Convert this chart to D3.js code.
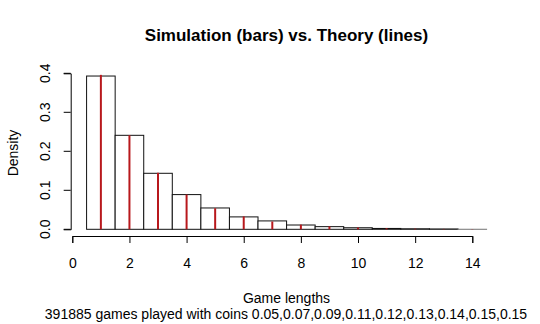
<!DOCTYPE html>
<html><head><meta charset="utf-8">
<script src="https://cdn.jsdelivr.net/npm/d3@7"></script>
<style>body{margin:0;background:#fff}svg{display:block}text{font-family:"Liberation Sans",Arial,sans-serif;fill:#000}</style>
</head><body>
<svg id="c" width="540" height="324"></svg>
<script>
const lengths = [1,2,3,4,5,6,7,8,9,10,11,12,13,14];
const simulated = [0.393,0.241,0.1436,0.089,0.0547,0.0318,0.0215,0.011,0.0068,0.004,0.0022,0.0014,0.0009,0.0001];
const theory = [0.396,0.241,0.145,0.089,0.054,0.033,0.020,0.012,0.0072,0.0044,0.0027,0.0016,0.0010,0.0006];
const xTicks = [0,2,4,6,8,10,12,14];
const yTicks = [0.0,0.1,0.2,0.3,0.4];
const title = "Simulation (bars) vs. Theory (lines)";
const xLabel = "Game lengths";
const yLabel = "Density";
const subtitle = "391885 games played with coins 0.05,0.07,0.09,0.11,0.12,0.13,0.14,0.15,0.15";

const FONT = "Liberation Sans, Arial, sans-serif";
const svg = d3.select("#c");
const x = d3.scaleLinear().domain([0,14]).range([72.3,472.3]);
const y = d3.scaleLinear().domain([0,0.4]).range([229.3,73.3]);

// bars
svg.append("g").selectAll("rect").data(lengths).join("rect")
  .attr("x", d => x(d-0.5)).attr("width", d => x(d+0.5)-x(d-0.5))
  .attr("y", (d,i) => y(simulated[i])).attr("height", (d,i) => y(0)-y(simulated[i]))
  .attr("fill","#fff").attr("stroke", (d,i) => simulated[i] < 0.0005 ? "#777" : "#111").attr("stroke-width",1);

// theory lines
svg.append("g").selectAll("line").data(lengths).join("line")
  .attr("x1", d => x(d)).attr("x2", d => x(d))
  .attr("y1", y(0)).attr("y2", (d,i) => y(theory[i]))
  .attr("stroke","#b8181c").attr("stroke-width",2);

// x axis
const xa = svg.append("g").attr("transform","translate(0,236)")
  .call(d3.axisBottom(x).tickValues(xTicks).tickSize(7).tickPadding(0).tickFormat(d3.format("d")));
xa.select(".domain").attr("stroke","#000");
xa.selectAll(".tick text").attr("font-size",14).style("font-family",FONT)
  .attr("y",31.7).attr("dy",0);

// y axis
const ya = svg.append("g").attr("transform","translate(70.7,0)")
  .call(d3.axisLeft(y).tickValues(yTicks).tickSize(7).tickFormat(d3.format(".1f")));
ya.selectAll(".tick").attr("transform", "translate(0,0)");
ya.selectAll(".tick line").attr("y1", d => y(d)).attr("y2", d => y(d));
ya.selectAll(".tick text").attr("font-size",14).style("font-family",FONT)
  .attr("text-anchor","middle").attr("x",0).attr("y",0).attr("dy",0)
  .attr("transform", d => `translate(-20.5,${y(d)}) rotate(-90)`);

// title and labels
svg.append("text").attr("x",286.5).attr("y",40.5).attr("text-anchor","middle")
  .attr("font-size",17).attr("font-weight","bold").text(title);
svg.append("text").attr("x",286.5).attr("y",302.5).attr("text-anchor","middle")
  .attr("font-size",14).text(xLabel);
svg.append("text").attr("x",286).attr("y",318.5).attr("text-anchor","middle")
  .attr("font-size",14).text(subtitle);
svg.append("text").attr("transform","translate(17.5,153) rotate(-90)").attr("text-anchor","middle")
  .attr("font-size",14).text(yLabel);
</script>
</body></html>
